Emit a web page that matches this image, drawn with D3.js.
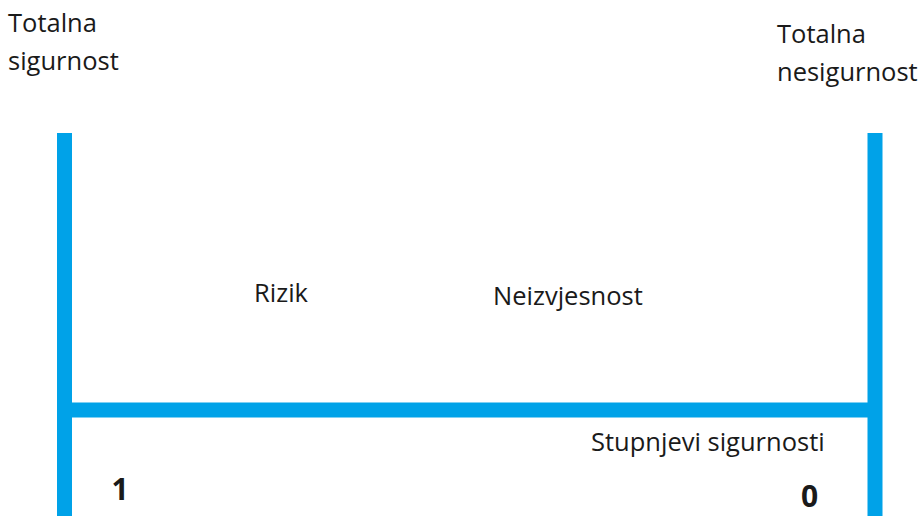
<!DOCTYPE html>
<html>
<head>
<meta charset="utf-8">
<script src="https://cdn.jsdelivr.net/npm/d3@7"></script>
<style>
  body { margin: 0; background: #fff; }
  text { font-family: "Open Sans", sans-serif; fill: #1a1a1a; }
</style>
</head>
<body>
<script>
// stupnjevi sigurnosti: lijevo 1, desno 0
var degrees = [1, 0];
var degreeLabels = ["1", "0"];
var endLabels = [["Totalna", "sigurnost"], ["Totalna", "nesigurnost"]];
var zones = ["Rizik", "Neizvjesnost"];
var axisTitle = "Stupnjevi sigurnosti";

var W = 919, H = 516;
var barColor = "#00a2e8";
var thick = 15;
var fs = "25.5px";

var x = d3.scaleLinear().domain([1, 0]).range([64.5, 875]);
var axisY = 410;

var svg = d3.select("body").append("svg")
  .attr("width", W)
  .attr("height", H);

// vertikalni stupovi
svg.selectAll(".post")
  .data(degrees)
  .enter().append("line")
    .attr("class", "post")
    .attr("x1", function(d) { return x(d); })
    .attr("x2", function(d) { return x(d); })
    .attr("y1", 133)
    .attr("y2", H)
    .attr("stroke", barColor)
    .attr("stroke-width", thick);

// horizontalna os
svg.append("line")
  .attr("x1", x(1))
  .attr("x2", x(0))
  .attr("y1", axisY)
  .attr("y2", axisY)
  .attr("stroke", barColor)
  .attr("stroke-width", thick);

// naslovi na krajevima
var endPos = [{x: 8, y: 32}, {x: 777, y: 43}];
endLabels.forEach(function(lines, i) {
  var t = svg.append("text")
    .attr("x", endPos[i].x)
    .attr("y", endPos[i].y)
    .style("font-size", fs);
  lines.forEach(function(l, j) {
    t.append("tspan")
      .attr("x", endPos[i].x)
      .attr("dy", j == 0 ? 0 : 38)
      .text(l);
  });
});

// zone
var zonePos = [{x: 254, y: 302}, {x: 493, y: 305}];
svg.selectAll(".zone")
  .data(zones)
  .enter().append("text")
    .attr("class", "zone")
    .attr("x", function(d, i) { return zonePos[i].x; })
    .attr("y", function(d, i) { return zonePos[i].y; })
    .style("font-size", fs)
    .text(function(d) { return d; });

svg.append("text")
  .attr("x", 591)
  .attr("y", 451)
  .style("font-size", fs)
  .text(axisTitle);

// oznake 1 i 0
var tickY = [500, 507];
svg.selectAll(".deg")
  .data(degrees)
  .enter().append("text")
    .attr("class", "deg")
    .attr("x", function(d, i) { return x(d) + (i == 0 ? 47 : -74); })
    .attr("y", function(d, i) { return tickY[i]; })
    .style("font-size", "30px")
    .style("font-weight", "bold")
    .text(function(d, i) { return degreeLabels[i]; });
</script>
</body>
</html>
